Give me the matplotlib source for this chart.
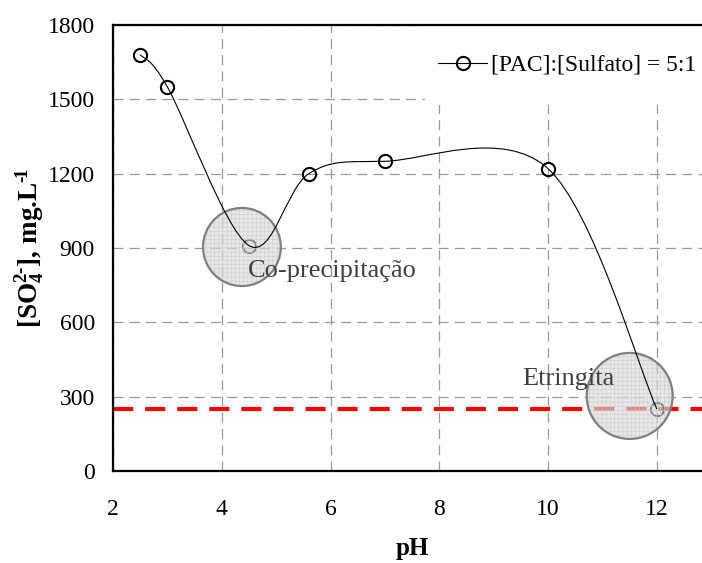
import matplotlib
matplotlib.use("Agg")
import matplotlib.pyplot as plt
import numpy as np
from matplotlib.path import Path
from matplotlib.patches import PathPatch, Ellipse, Rectangle
from matplotlib.lines import Line2D

plt.rcParams['font.family'] = ['Liberation Serif', 'DejaVu Serif']
plt.rcParams['mathtext.default'] = 'regular'
plt.rcParams['hatch.linewidth'] = 0.4

# data
ph = [2.5, 3.0, 4.5, 5.6, 7.0, 10.0, 12.0]
sulfato = [1680, 1550, 910, 1200, 1250, 1220, 250]
serie_label = "[PAC]:[Sulfato] = 5:1"
limite = 250

x_ticks = [2, 4, 6, 8, 10, 12]
y_ticks = [0, 300, 600, 900, 1200, 1500, 1800]

# highlighted regions (center x, center y, width, height) and their notes
destaques = [(4.37, 904, 1.43, 315), (11.50, 303, 1.58, 347)]
notas = [("Co-precipitação", 4.48, 807), ("Etringita", 9.52, 371)]


def smooth_path(xs, ys):
    # excel-style smoothed line: cubic bezier segments (catmull-rom control points)
    pts = np.column_stack([xs, ys]).astype(float)
    n = len(pts)
    verts = [pts[0]]
    codes = [Path.MOVETO]
    for i in range(n - 1):
        p_prev = pts[i - 1] if i > 0 else pts[i]
        p_next = pts[i + 2] if i + 2 < n else pts[i + 1]
        c1 = pts[i] + (pts[i + 1] - p_prev) / 6
        c2 = pts[i + 1] - (p_next - pts[i]) / 6
        verts += [c1, c2, pts[i + 1]]
        codes += [Path.CURVE4] * 3
    return Path(verts, codes)


fig = plt.figure(figsize=(7.02, 5.63), dpi=100)
ax = fig.add_axes([0.161, 0.1634, 0.839, 0.7922])

ax.set_xlim(2, 12.83)
ax.set_ylim(0, 1800)
ax.set_xticks(x_ticks)
ax.set_yticks(y_ticks)

ax.grid(True, color='#999999', linestyle=(0, (8, 5)), linewidth=0.9, zorder=0)
ax.set_axisbelow(True)

# white box behind the legend hides the grid there
ax.add_patch(Rectangle((0.530, 0.8206), 0.47, 0.18, transform=ax.transAxes,
                       facecolor='white', edgecolor='none', zorder=1))

ax.axhline(limite, color='#ff0000', linewidth=3, linestyle=(0, (4.8, 2.9)), zorder=2)

ax.plot(ph, sulfato, 'o', markersize=9.5, markerfacecolor='none',
        markeredgecolor='black', markeredgewidth=1.5, zorder=3)

for cx, cy, w, h in destaques:
    ax.add_patch(Ellipse((cx, cy), w, h, facecolor=(0.85, 0.85, 0.85, 0.6),
                         edgecolor='#cccccc', linewidth=0, hatch='++++', zorder=4))
    ax.add_patch(Ellipse((cx, cy), w, h, facecolor='none',
                         edgecolor='#7f7f7f', linewidth=1.6, zorder=4))

ax.add_patch(PathPatch(smooth_path(ph, sulfato), facecolor='none',
                       edgecolor='black', linewidth=0.8, zorder=5))

for txt, tx, ty in notas:
    ax.text(tx, ty, txt, fontsize=19, color='#3f3f3f', ha='left', va='center', zorder=6)

for side in ['top', 'left', 'bottom']:
    ax.spines[side].set_linewidth(1.6)
ax.spines['right'].set_visible(False)

ax.tick_params(axis='both', length=0, labelsize=17)
ax.tick_params(axis='y', pad=13)
ax.tick_params(axis='x', pad=20)

ax.set_xlabel("pH", fontsize=18, fontweight='bold')
ax.set_ylabel("[SO$_4^{2\u2010}$], mg.L$^{\u2010\\!1}$", fontsize=19.5, fontweight='bold')
ax.xaxis.set_label_coords(0.508, -0.148)
ax.yaxis.set_label_coords(-0.112, 0.5)

handle = Line2D([], [], color='black', linewidth=0.8, marker='o', markersize=9.5,
                markerfacecolor='none', markeredgecolor='black', markeredgewidth=1.5)
leg = ax.legend([handle], [serie_label], loc='center left', bbox_to_anchor=(0.552, 0.910),
                fontsize=17, handlelength=2.07, handletextpad=0.17, borderpad=0,
                borderaxespad=0, frameon=False)
leg.set_zorder(7)

fig.savefig("out.png", dpi=100)
